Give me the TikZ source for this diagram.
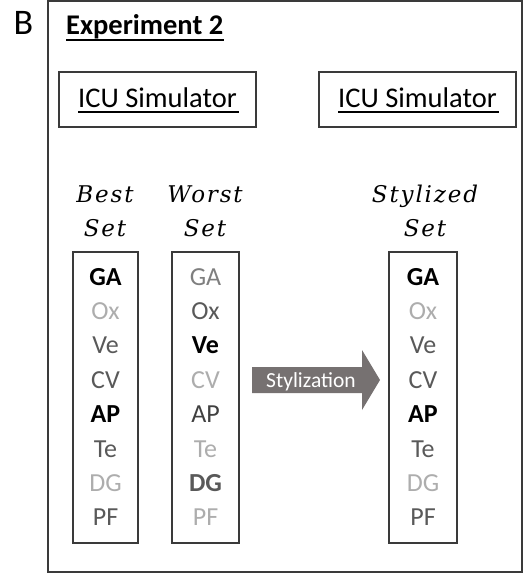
\documentclass[tikz,border=0pt]{standalone}
\usepackage{fontspec}
\setmainfont{Carlito}
\newfontfamily\setlabelfont[LetterSpace=8]{DejaVu Serif}
\definecolor{lightg}{HTML}{ADADAD}
\definecolor{midg}{HTML}{7F7F7F}
\definecolor{darkg}{HTML}{595959}
\definecolor{deepg}{HTML}{404040}
\definecolor{arrowg}{HTML}{767171}
\definecolor{edgeg}{HTML}{3A3A3A}
\tikzset{
  frame/.style={draw=edgeg, line width=1.8pt},
  simbox/.style={draw=edgeg, line width=1.4pt, minimum width=197pt, minimum height=55pt,
    inner sep=0pt, text height=19pt, text depth=4pt, font=\fontsize{28.5}{28.5}\selectfont},
  listbox/.style={draw=edgeg, line width=1.3pt, inner sep=0pt},
  setlabel/.style={anchor=base, inner sep=0pt, font=\setlabelfont\itshape\fontsize{23}{23}\selectfont},
  item/.style={anchor=base, inner sep=0pt, font=\fontsize{26}{26}\selectfont},
  bolditem/.style={item, font=\bfseries\fontsize{26}{26}\selectfont},
  uline/.style={line width=1.4pt},
}
\begin{document}
\begin{tikzpicture}[x=1pt, y=-1pt]
\useasboundingbox (0,0) rectangle (527,575);
% panel frame and panel letter
\draw[frame] (48,1) rectangle (522,572);
\node[inner sep=0pt, font=\fontsize{36}{36}\selectfont] (panel) at (23.5,23) {B};

% title
\node[anchor=base west, inner sep=0pt, font=\bfseries\fontsize{28.5}{28.5}\selectfont] (title) at (66,35) {Experiment 2};
\draw[uline] ([yshift=-5pt]title.base west) -- ([yshift=-5pt]title.base east);

% simulator boxes
\node[simbox] (sim1) at (157.5,99.5) {ICU Simulator};
\node[simbox] (sim2) at (417.5,99.5) {ICU Simulator};
\draw[line width=1.2pt] ([yshift=-5pt]sim1.base west) ++(20pt,0) coordinate (u1a)
  -- ([yshift=-5pt,xshift=-18pt]sim1.base east) coordinate (u1b);
\draw[line width=1.2pt] ([yshift=-5pt]sim2.base west) ++(20pt,0) coordinate (u2a)
  -- ([yshift=-5pt,xshift=-18pt]sim2.base east) coordinate (u2b);

% set labels
\node[setlabel] (lb1) at (105,202) {Best};
\node[setlabel] (lb2) at (105,236) {Set};
\node[setlabel] (lw1) at (205,202) {Worst};
\node[setlabel] (lw2) at (205,236) {Set};
\node[setlabel] (ls1) at (425,202) {Stylized};
\node[setlabel] (ls2) at (425,236) {Set};

% list boxes
\draw[listbox] (73,252) rectangle (138,543);
\draw[listbox] (172,252) rectangle (239,543);
\draw[listbox] (389,252) rectangle (457,543);

% best set
\node[bolditem] (b1) at (105.5,285) {GA};
\node[item, text=lightg] (b2) at (105.5,319.4) {Ox};
\node[item, text=darkg] (b3) at (105.5,353.8) {Ve};
\node[item, text=darkg] (b4) at (105.5,388.2) {CV};
\node[bolditem] (b5) at (105.5,422.6) {AP};
\node[item, text=darkg] (b6) at (105.5,457) {Te};
\node[item, text=lightg] (b7) at (105.5,491.4) {DG};
\node[item, text=darkg] (b8) at (105.5,525.8) {PF};

% worst set
\node[item, text=midg] (w1) at (205.5,285) {GA};
\node[item, text=darkg] (w2) at (205.5,319.4) {Ox};
\node[bolditem] (w3) at (205.5,353.8) {Ve};
\node[item, text=lightg] (w4) at (205.5,388.2) {CV};
\node[item, text=deepg] (w5) at (205.5,422.6) {AP};
\node[item, text=lightg] (w6) at (205.5,457) {Te};
\node[bolditem, text=darkg] (w7) at (205.5,491.4) {DG};
\node[item, text=lightg] (w8) at (205.5,525.8) {PF};

% stylized set
\node[bolditem] (s1) at (423,285) {GA};
\node[item, text=lightg] (s2) at (423,319.4) {Ox};
\node[item, text=darkg] (s3) at (423,353.8) {Ve};
\node[item, text=darkg] (s4) at (423,388.2) {CV};
\node[bolditem] (s5) at (423,422.6) {AP};
\node[item, text=darkg] (s6) at (423,457) {Te};
\node[item, text=lightg] (s7) at (423,491.4) {DG};
\node[item, text=darkg] (s8) at (423,525.8) {PF};

% stylization block arrow
\fill[arrowg] (252,367) -- (362,367) -- (362,350) -- (380,380) -- (362,410) -- (362,393) -- (252,393) -- cycle;
\node[anchor=base, inner sep=0pt, text=white, font=\fontsize{21.5}{21.5}\selectfont] (sty) at (311,387) {Stylization};
\end{tikzpicture}
\end{document}
